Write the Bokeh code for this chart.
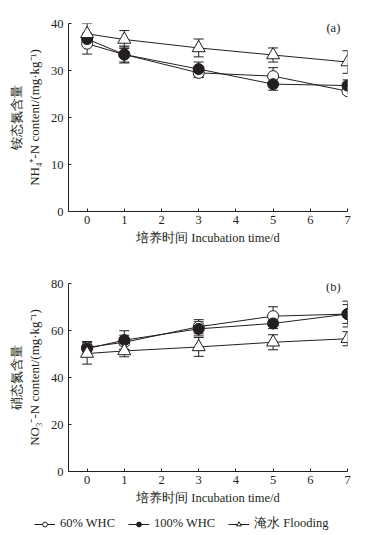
from bokeh.plotting import figure
from bokeh.layouts import column
from bokeh.models import ColumnDataSource, Whisker, Label, Legend, LegendItem, FixedTicker
from bokeh.embed import file_html
from bokeh.resources import INLINE

days = [0, 1, 3, 5, 7]

# (a) NH4+-N
a_60 = [35.7, 33.4, 29.5, 28.8, 25.6]
a_60_err = [2.2, 1.6, 1.0, 1.8, 0.5]
a_100 = [36.7, 33.4, 30.3, 27.1, 26.8]
a_100_err = [1.2, 1.8, 1.5, 1.3, 1.2]
a_fl = [37.8, 36.6, 34.8, 33.3, 31.8]
a_fl_err = [2.2, 1.9, 1.9, 1.5, 2.4]

# (b) NO3--N
b_60 = [52.8, 55.0, 61.6, 66.1, 67.0]
b_60_err = [2.5, 3.0, 3.0, 4.0, 4.0]
b_100 = [52.3, 55.9, 60.7, 63.0, 67.0]
b_100_err = [2.8, 4.0, 3.0, 2.2, 5.5]
b_fl = [50.2, 51.3, 53.0, 55.0, 56.5]
b_fl_err = [4.5, 2.5, 4.0, 3.2, 3.0]

legend_labels = ["60% WHC", "100% WHC", "淹水 Flooding"]

INK = "#231f20"
SERIF = "Liberation Serif"
FS = "12.5px"
MARKERS = [("circle", "white"), ("circle", INK), ("triangle", "white")]


def make_panel(series, ymax, ystep, ylabel, tag, tag_y, top, bottom, height):
    p = figure(frame_width=279, frame_height=188, width=361, height=height,
               x_range=(-0.5, 7.0), y_range=(0, ymax),
               output_backend="svg", toolbar_location=None,
               min_border_left=68, min_border_right=14, min_border_top=top,
               min_border_bottom=bottom)
    p.outline_line_color = None
    p.grid.visible = False
    p.background_fill_color = "white"
    for ax in (p.xaxis[0], p.yaxis[0]):
        ax.axis_line_color = INK
        ax.major_tick_line_color = INK
        ax.minor_tick_line_color = None
        ax.major_tick_in = 3
        ax.major_tick_out = 0
        ax.major_label_text_font = SERIF
        ax.major_label_text_font_size = FS
        ax.major_label_text_color = INK
        ax.axis_label_text_font = SERIF
        ax.axis_label_text_font_size = FS
        ax.axis_label_text_font_style = "normal"
        ax.axis_label_text_color = INK
    p.yaxis.axis_label_text_font_size = "13px"
    p.xaxis.ticker = FixedTicker(ticks=list(range(0, 8)))
    p.yaxis.ticker = FixedTicker(ticks=list(range(0, ymax + 1, ystep)))
    p.xaxis.major_label_standoff = 4
    p.yaxis.major_label_standoff = 5
    p.xaxis.axis_label = "培养时间 Incubation time/d"
    p.xaxis.axis_label_standoff = 4
    p.yaxis.axis_label = ylabel
    p.yaxis.axis_label_standoff = 6

    for (vals, errs), (marker, fill) in zip(series, MARKERS):
        src = ColumnDataSource(dict(x=days, y=vals,
                                    lo=[v - e for v, e in zip(vals, errs)],
                                    hi=[v + e for v, e in zip(vals, errs)]))
        w = Whisker(source=src, base="x", lower="lo", upper="hi",
                    line_color=INK, line_width=1)
        w.upper_head.size = 10
        w.lower_head.size = 10
        w.upper_head.line_color = INK
        w.lower_head.line_color = INK
        p.add_layout(w)
        p.line("x", "y", source=src, line_color=INK, line_width=1)
        p.scatter("x", "y", source=src, marker=marker,
                  size=13 if marker == "triangle" else 11,
                  line_color=INK, line_width=1, fill_color=fill)

    p.add_layout(Label(x=6.62, y=tag_y, text=tag, text_font=SERIF,
                       text_font_size=FS, text_color=INK,
                       text_align="center", text_baseline="middle"))
    return p


p1 = make_panel([(a_60, a_60_err), (a_100, a_100_err), (a_fl, a_fl_err)],
                40, 10, "铵态氮含量\nNH₄⁺-N content/(mg·kg⁻¹)", "(a)", 39.0, 23, 57, 268)

p2 = make_panel([(b_60, b_60_err), (b_100, b_100_err), (b_fl, b_fl_err)],
                80, 20, "硝态氮含量\nNO₃⁻-N content/(mg·kg⁻¹)", "(b)", 78.4, 15, 41, 244)

# legend strip (legend-only renderers sit outside the visible range)
p3 = figure(width=369, height=23, x_range=(0, 1), y_range=(0, 1),
            output_backend="svg", toolbar_location=None,
            min_border_left=0, min_border_right=0, min_border_top=0, min_border_bottom=0)
p3.axis.visible = False
p3.grid.visible = False
p3.outline_line_color = None
items = []
for lab, (marker, fill) in zip(legend_labels, MARKERS):
    ln = p3.line(x=[-10, -9], y=[-10, -9], line_color=INK, line_width=1)
    sc = p3.scatter(x=[-10], y=[-10], marker=marker,
                    size=12 if marker == "triangle" else 10,
                    line_color=INK, line_width=1, fill_color=fill)
    items.append(LegendItem(label=lab, renderers=[ln, sc]))
legend = Legend(items=items, orientation="horizontal", location=(34, 3),
                label_text_font=SERIF, label_text_font_size=FS,
                label_text_color=INK, glyph_width=21, glyph_height=12,
                spacing=13, padding=0, margin=0, label_standoff=5,
                label_height=14,
                border_line_color=None, background_fill_alpha=0)
p3.add_layout(legend, "center")

layout = column(column(p1, p2, spacing=0), p3, spacing=0)

with open("out.html", "w") as f:
    f.write(file_html(layout, INLINE))
